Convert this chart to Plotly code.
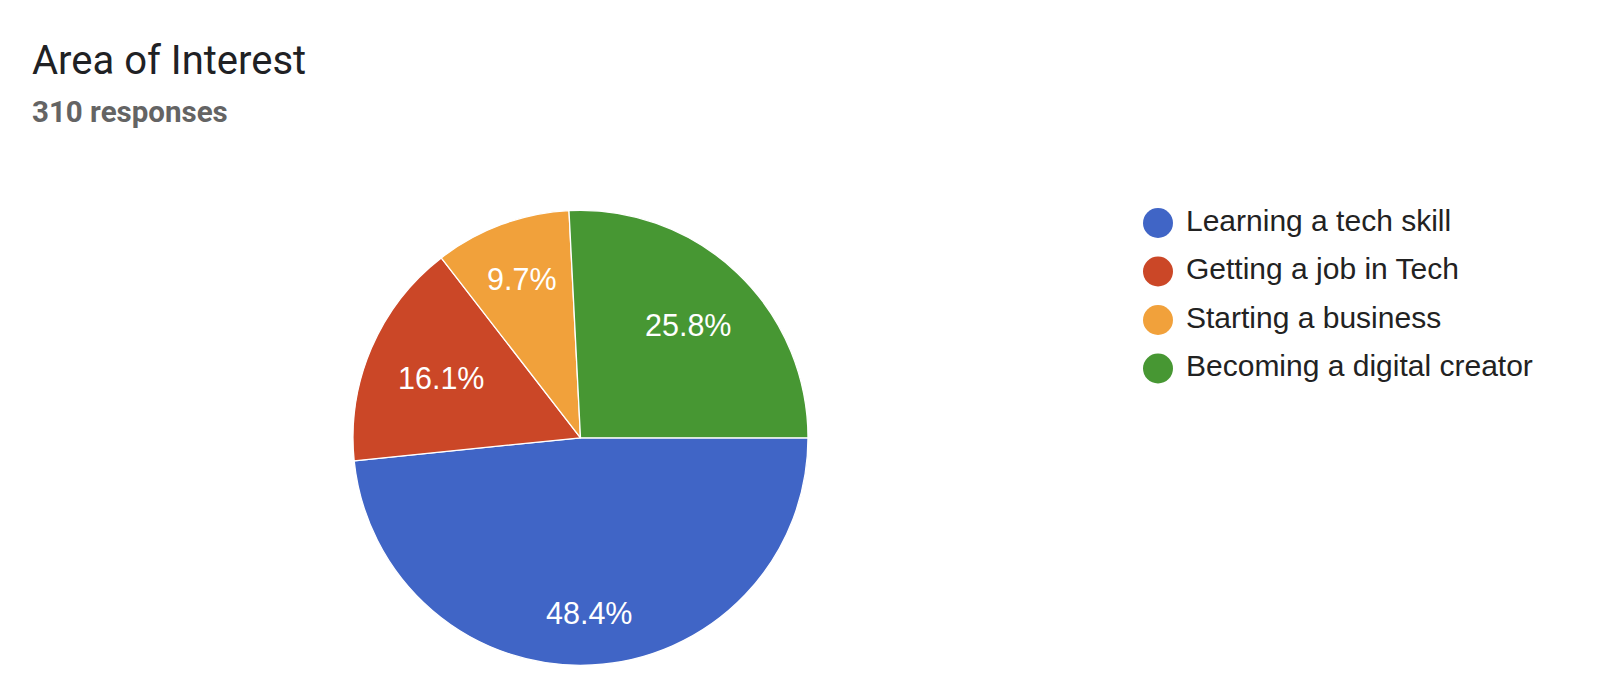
import math
import plotly.graph_objects as go

# Data
categories = ["Learning a tech skill", "Getting a job in Tech", "Starting a business", "Becoming a digital creator"]
responses = [150, 50, 30, 80]
colors = ["#4065c6", "#cb4727", "#f1a13b", "#479733"]
title_text = "Area of Interest"
subtitle_text = "310 responses"

# The page body has an 8px margin, so the figure is shrunk to fit the window
PAGE_W, PAGE_H, BODY = 1600, 691, 8
W, H = PAGE_W - BODY, PAGE_H - BODY

# pie geometry (figure pixels)
cx, cy, r = 572.5, 429.8, 227.5
start_deg = 90  # first slice starts at 3 o'clock, going clockwise

fig = go.Figure()

fig.add_trace(go.Pie(
    labels=categories,
    values=responses,
    sort=False,
    direction="clockwise",
    rotation=start_deg,
    marker=dict(colors=colors, line=dict(color="white", width=1.3)),
    textinfo="none",
    showlegend=False,
    hoverinfo="label+percent",
    domain=dict(x=[(cx - r) / W, (cx + r) / W], y=[1 - (cy + r) / H, 1 - (cy - r) / H]),
))

# Slice labels, placed like Google Charts: the outer corner of the text box
# touches a circle at 0.87 of the radius, along each slice's middle angle.
label_size = 30.5
char_w = {".": 0.278, "%": 0.889}
total = sum(responses)
acc = 0.0
for v in responses:
    mid = math.radians(start_deg + (acc + v / 2) / total * 360)
    acc += v
    txt = f"{v / total * 100:.1f}%"
    ux, uy = math.sin(mid), -math.cos(mid)
    hw = sum(char_w.get(c, 0.556) for c in txt) * label_size / 2
    hh = label_size / 2
    c_x, c_y = math.copysign(hw, ux), math.copysign(hh, uy)
    R = 0.87 * r
    uc = ux * c_x + uy * c_y
    d = -uc + math.sqrt(uc * uc - (c_x ** 2 + c_y ** 2) + R * R)
    fig.add_annotation(
        text=txt, xref="x", yref="y", x=cx + d * ux, y=cy + d * uy,
        xanchor="center", yanchor="middle", showarrow=False,
        font=dict(family="Liberation Sans, Arial", size=label_size, color="white"),
    )

# Legend drawn as scatter on a hidden pixel-scaled axis
row0, row_gap = 215.0, 48.5
marker_x, text_x = 1150.0, 1178.0
ys = [row0 + i * row_gap for i in range(len(categories))]

fig.add_trace(go.Scatter(
    x=[marker_x] * len(categories), y=ys, mode="markers",
    marker=dict(size=30, color=colors, symbol="circle", line=dict(width=0)),
    showlegend=False, hoverinfo="skip",
))
fig.add_trace(go.Scatter(
    x=[text_x] * len(categories), y=ys, mode="text", text=categories,
    textposition="middle right",
    textfont=dict(family="Liberation Sans, Arial", size=30, color="#222222"),
    showlegend=False, hoverinfo="skip",
))

fig.update_xaxes(visible=False, range=[0, W], domain=[0, 1], fixedrange=True)
fig.update_yaxes(visible=False, range=[H, 0], domain=[0, 1], fixedrange=True)

fig.add_annotation(
    text=title_text, xref="paper", yref="paper", x=22 / W, y=1 - 52 / H,
    xanchor="left", yanchor="middle", showarrow=False,
    font=dict(family="Roboto", size=40, color="#202124"),
)
fig.add_annotation(
    text="<b>" + subtitle_text + "</b>", xref="paper", yref="paper", x=22 / W, y=1 - 104 / H,
    xanchor="left", yanchor="middle", showarrow=False,
    font=dict(family="Roboto", size=29.5, color="#646464"),
)

fig.update_layout(
    width=W, height=H,
    margin=dict(l=0, r=0, t=0, b=0),
    paper_bgcolor="white", plot_bgcolor="white",
)

fig.write_html("out.html")
